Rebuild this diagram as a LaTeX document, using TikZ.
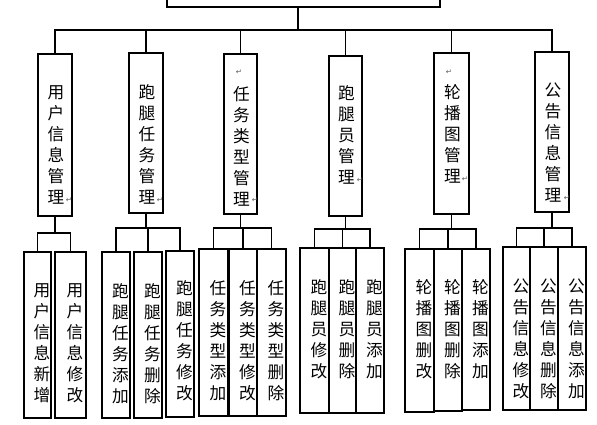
\documentclass[tikz,border=0pt]{standalone}
\usepackage{fontspec}
\newfontfamily\cjk{Noto Sans CJK SC}
\newfontfamily\pmfont{DejaVu Sans}

\tikzset{every picture/.style={line width=0.8pt}}

\begin{document}
\begin{tikzpicture}[x=0.75pt,y=0.75pt,yscale=-1,xscale=1,
  box/.style={draw, inner sep=0pt, outer sep=0pt},
  vtext/.style={inner sep=0.75pt, align=center, font=\cjk\fontsize{12.5}{15.75}\selectfont},
  pmark/.style={inner sep=0pt, font=\pmfont\fontsize{5.5}{5.5}\selectfont, text=black!65}]
\useasboundingbox (0,0) rectangle (597,425);
\clip (0,0) rectangle (597,425);

%Shape: Rectangle (top, cut off)
\node [box, minimum width=204.75pt, minimum height=20.25pt] (root) at (303.5,-6.5) {};
\coordinate (hub) at (298,30);

%Shape: Rectangle (level 1)
\node [box, minimum width=25.5pt, minimum height=121.5pt] (m1) at (55,135) {};
\node [box, minimum width=25.5pt, minimum height=120pt] (m2) at (146,133) {};
\node [box, minimum width=24.75pt, minimum height=120pt] (m3) at (240.5,134) {};
\node [box, minimum width=24.75pt, minimum height=120pt] (m4) at (345.5,136) {};
\node [box, minimum width=26.25pt, minimum height=120.75pt] (m5) at (451.5,133.5) {};
\node [box, minimum width=25.5pt, minimum height=120pt] (m6) at (552,132) {};

%Shape: Rectangle (level 2)
\node [box, minimum width=20.25pt, minimum height=124.5pt] (a1) at (37.5,335) {};
\node [box, minimum width=23.25pt, minimum height=124.5pt] (a2) at (70.5,335) {};
\node [box, minimum width=21pt, minimum height=124.5pt] (b1) at (116,335) {};
\node [box, minimum width=21pt, minimum height=124.5pt] (b2) at (148,335) {};
\node [box, minimum width=21pt, minimum height=124.5pt] (b3) at (180,334) {};
\node [box, minimum width=21.75pt, minimum height=125.25pt] (c1) at (213.5,332.5) {};
\node [box, minimum width=21pt, minimum height=125.25pt] (c2) at (243,332.5) {};
\node [box, minimum width=21.75pt, minimum height=125.25pt] (c3) at (271.5,332.5) {};
\node [box, minimum width=21.75pt, minimum height=123.75pt] (d1) at (314.5,330.5) {};
\node [box, minimum width=20.25pt, minimum height=123.75pt] (d2) at (342.5,330.5) {};
\node [box, minimum width=21pt, minimum height=123.75pt] (d3) at (370,330.5) {};
\node [box, minimum width=21.75pt, minimum height=122.25pt] (e1) at (419.5,330.5) {};
\node [box, minimum width=21pt, minimum height=121.5pt] (e2) at (448,330) {};
\node [box, minimum width=21pt, minimum height=120.75pt] (e3) at (476,329.5) {};
\node [box, minimum width=20.25pt, minimum height=122.25pt] (f1) at (516.5,328.5) {};
\node [box, minimum width=21pt, minimum height=122.25pt] (f2) at (544,328.5) {};
\node [box, minimum width=21pt, minimum height=122.25pt] (f3) at (572,328.5) {};

%Straight Lines
\draw (root.south -| hub) -- (hub) ;
\foreach \n in {m1,m2,m3,m4,m5,m6}
  \draw (hub) -| (\n.north) ;
\foreach \c in {a1,a2}
  \draw (m1.south) -- ++(0,17) -| (\c.north) ;
\foreach \c in {b1,b2,b3}
  \draw (m2.south) -- ++(0,15) -| (\c.north) ;
\foreach \c in {c1,c2,c3}
  \draw (m3.south) -- ++(0,14) -| (\c.north) ;
\foreach \c in {d1,d2,d3}
  \draw (m4.south) -- ++(0,13) -| (\c.north) ;
\foreach \c in {e1,e2,e3}
  \draw (m5.south) -- ++(0,15) -| (\c.north) ;
\foreach \c in {f1,f2,f3}
  \draw (m6.south) -- ++(0,16) -| (\c.north) ;

% Text Node
\node [vtext] (t-m1) at (56,145) {用\\户\\信\\息\\管\\理};
\node [vtext] (t-m2) at (147,144.5) {跑\\腿\\任\\务\\管\\理};
\node [vtext] (t-m3) at (241.5,146) {任\\务\\类\\型\\管\\理};
\node [vtext] (t-m4) at (346.5,135) {跑\\腿\\员\\管\\理};
\node [vtext] (t-m5) at (452.5,134) {轮\\播\\图\\管\\理};
\node [vtext] (t-m6) at (553,142.5) {公\\告\\信\\息\\管\\理};

% Text Node
\node [vtext] (t-a1) at (42,343.5) {用\\户\\信\\息\\新\\增};
\node [vtext] (t-a2) at (75,343.5) {用\\户\\信\\息\\修\\改};
\node [vtext] (t-b1) at (120.5,343.5) {跑\\腿\\任\\务\\添\\加};
\node [vtext] (t-b2) at (152.5,343.5) {跑\\腿\\任\\务\\删\\除};
\node [vtext] (t-b3) at (184.5,340.5) {跑\\腿\\任\\务\\修\\改};
\node [vtext] (t-c1) at (218,340.5) {任\\务\\类\\型\\添\\加};
\node [vtext] (t-c2) at (247.5,340.5) {任\\务\\类\\型\\修\\改};
\node [vtext] (t-c3) at (276,340.5) {任\\务\\类\\型\\删\\除};
\node [vtext] (t-d1) at (319,329.5) {跑\\腿\\员\\修\\改};
\node [vtext] (t-d2) at (347,329.5) {跑\\腿\\员\\删\\除};
\node [vtext] (t-d3) at (374.5,329.5) {跑\\腿\\员\\添\\加};
\node [vtext] (t-e1) at (424,329) {轮\\播\\图\\删\\改};
\node [vtext] (t-e2) at (452.5,329) {轮\\播\\图\\删\\除};
\node [vtext] (t-e3) at (480.5,329) {轮\\播\\图\\添\\加};
\node [vtext] (t-f1) at (521,338.5) {公\\告\\信\\息\\修\\改};
\node [vtext] (t-f2) at (548.5,338.5) {公\\告\\信\\息\\删\\除};
\node [vtext] (t-f3) at (576.5,338.5) {公\\告\\信\\息\\添\\加};

% Paragraph marks
\node [pmark] (p1) at (69,200) {↵};
\node [pmark] (p2) at (160,200) {↵};
\node [pmark] (p3) at (239,72) {↵};
\node [pmark] (p4) at (255,200) {↵};
\node [pmark] (p5) at (360,180) {↵};
\node [pmark] (p6) at (449,72) {↵};
\node [pmark] (p7) at (465,179) {↵};
\node [pmark] (p8) at (567,198) {↵};

\end{tikzpicture}
\end{document}
